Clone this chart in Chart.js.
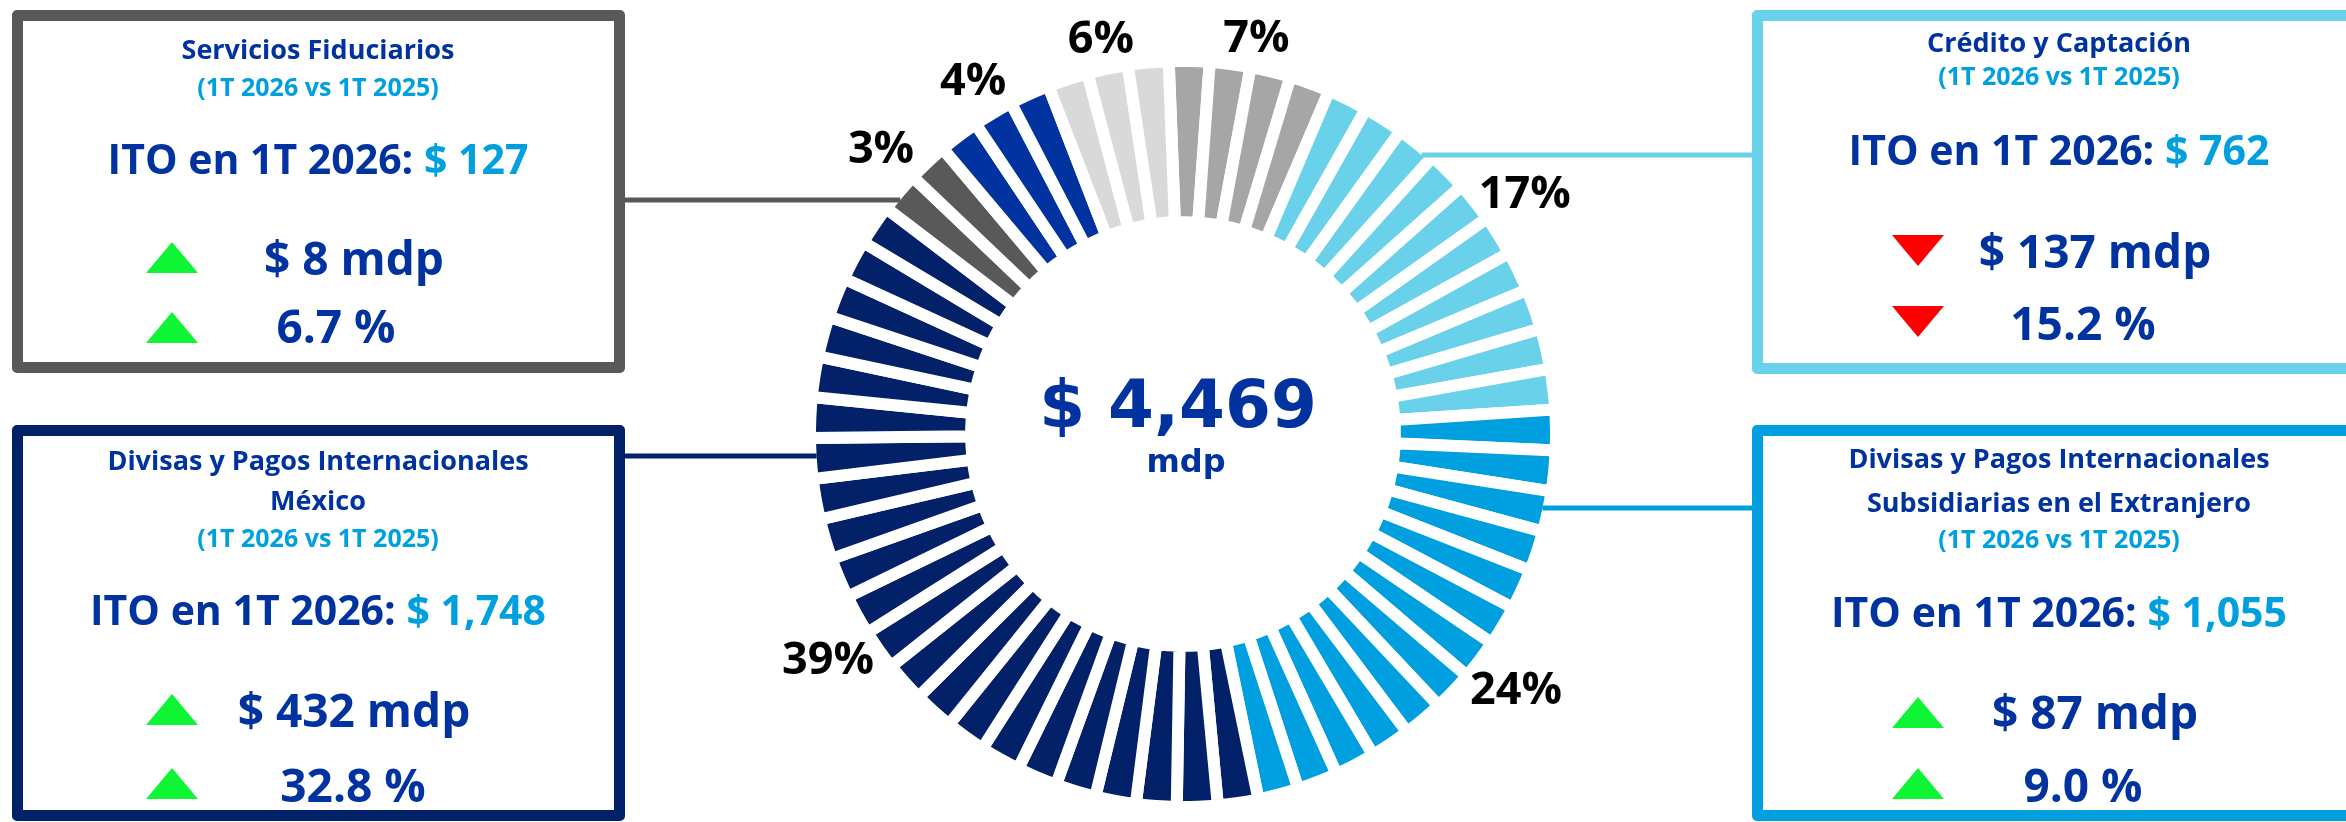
<!DOCTYPE html>
<html lang="es">
<head>
<meta charset="utf-8">
<script src="https://cdn.jsdelivr.net/npm/chart.js@4.4.1/dist/chart.umd.min.js"></script>
<style>
html,body{margin:0;padding:0;background:#fff;}
#page{position:relative;width:2346px;height:822px;overflow:hidden;font-family:"Open Sans",sans-serif;}
#chart{position:absolute;left:0;top:0;}
.box{position:absolute;box-sizing:border-box;border:11px solid;border-radius:5px;}
.t{position:absolute;width:800px;text-align:center;line-height:1;white-space:nowrap;font-weight:700;color:#0033a0;}
.tri{position:absolute;width:52px;height:31px;}
.up{background:#0df535;clip-path:polygon(50% 0,100% 100%,0 100%);}
.down{background:#ff0000;clip-path:polygon(0 0,100% 0,50% 100%);}
.centro{position:absolute;width:600px;text-align:center;line-height:1;font-family:"DejaVu Sans",sans-serif;font-weight:700;color:#0033a0;white-space:nowrap;}
</style>
</head>
<body>
<div id="page">
  <canvas id="chart" width="2346" height="822"></canvas>
</div>
<script>
// datos del anillo
const categorias = ['Otros negocios A', 'Crédito y Captación', 'Divisas y Pagos Internacionales Subsidiarias en el Extranjero', 'Divisas y Pagos Internacionales México', 'Servicios Fiduciarios', 'Otros negocios B', 'Otros negocios C'];
const porcentajes = [7, 17, 24, 39, 3, 4, 6];
const segmentos = [4, 10, 13, 22, 2, 3, 3];
const colores = ['#a6a6a6', '#69d2ea', '#009fdf', '#022169', '#595959', '#0033a0', '#d9d9d9'];

const totalIto = 4469;

// cajas: Servicios Fiduciarios, Divisas Mexico, Credito, Divisas Extranjero
const titulos = [['Servicios Fiduciarios'], ['Divisas y Pagos Internacionales', 'México'], ['Crédito y Captación'], ['Divisas y Pagos Internacionales', 'Subsidiarias en el Extranjero']];
const itoNegocio = [127, 1748, 762, 1055];
const variacionMdp = [8, 432, -137, 87];
const variacionPct = [6.7, 32.8, -15.2, 9.0];
const periodo = '(1T 2026 vs 1T 2025)';

const page = document.querySelector('#page');

function linea(html, cx, cy, size, extra) {
    const d = document.createElement('div');
    d.className = 't';
    d.style.left = (cx - 400) + 'px';
    d.style.top = (cy - 0.53 * size) + 'px';
    d.style.fontSize = size + 'px';
    if (extra) Object.assign(d.style, extra);
    d.innerHTML = html;
    page.appendChild(d);
}

function triangulo(x, y, sube) {
    const d = document.createElement('div');
    d.className = 'tri ' + (sube ? 'up' : 'down');
    d.style.left = x + 'px';
    d.style.top = y + 'px';
    page.appendChild(d);
}

const cajas = [
    {cat: 4, x: 12, y: 10, w: 613, h: 363, cx: 318, tit: [49], sub: 87, ito: 160, triX: 146, triY: [242, 312], mdp: [354, 258], pct: [336, 326]},
    {cat: 3, x: 12, y: 425, w: 613, h: 396, cx: 318, tit: [460, 500], sub: 538, ito: 611, triX: 146, triY: [694, 768], mdp: [354, 710], pct: [353, 785]},
    {cat: 1, x: 1752, y: 10, w: 700, h: 364, cx: 2059, tit: [42], sub: 76, ito: 151, triX: 1892, triY: [235, 306], mdp: [2095, 251], pct: [2083, 323]},
    {cat: 2, x: 1752, y: 425, w: 700, h: 396, cx: 2059, tit: [458, 502], sub: 539, ito: 613, triX: 1892, triY: [697, 768], mdp: [2095, 712], pct: [2083, 785]}
];

cajas.forEach((c, i) => {
    const b = document.createElement('div');
    b.className = 'box';
    Object.assign(b.style, {left: c.x + 'px', top: c.y + 'px', width: c.w + 'px', height: c.h + 'px', borderColor: colores[c.cat]});
    page.appendChild(b);

    titulos[i].forEach((t, k) => linea(t, c.cx, c.tit[k], 27));
    linea(periodo, c.cx, c.sub, 25, {color: '#00a0df'});
    linea('ITO en 1T 2026: <span style="color:#00a0df">$ ' + itoNegocio[i].toLocaleString('en-US') + '</span>', c.cx, c.ito, 41);

    triangulo(c.triX, c.triY[0], variacionMdp[i] >= 0);
    triangulo(c.triX, c.triY[1], variacionPct[i] >= 0);
    linea('$ ' + Math.abs(variacionMdp[i]).toLocaleString('en-US') + ' mdp', c.mdp[0], c.mdp[1], 46);
    linea(Math.abs(variacionPct[i]).toFixed(1) + ' %', c.pct[0], c.pct[1], 46);
});

// texto central
const tot = document.createElement('div');
tot.className = 'centro';
Object.assign(tot.style, {left: (1178 - 300) + 'px', top: (404 - 0.482 * 66) + 'px', fontSize: '66px'});
tot.textContent = '$ ' + totalIto.toLocaleString('en-US');
page.appendChild(tot);
const mdp = document.createElement('div');
mdp.className = 'centro';
Object.assign(mdp.style, {left: (1186 - 300) + 'px', top: (472 - 0.846 * 32) + 'px', fontSize: '32px'});
mdp.textContent = 'mdp';
page.appendChild(mdp);

// un segmento por cuadrito del anillo
const valores = [], fondos = [], segCat = [];
segmentos.forEach((n, i) => {
    for (let k = 0; k < n; k++) {
        valores.push(1);
        fondos.push(colores[i]);
        segCat.push(i);
    }
});

const borde = 12;

// porcentajes alrededor del anillo
const etiquetas = {
    id: 'etiquetas',
    afterDatasetsDraw(chart) {
        const arcs = chart.getDatasetMeta(0).data;
        const c = chart.ctx;
        c.save();
        c.font = '700 45px "Open Sans"';
        c.fillStyle = '#000';
        c.textAlign = 'center';
        c.textBaseline = 'alphabetic';
        let idx = 0;
        segmentos.forEach((n, i) => {
            const a0 = arcs[idx], a1 = arcs[idx + n - 1];
            idx += n;
            const ang = (a0.startAngle + a1.endAngle) / 2;
            const r = a0.outerRadius - borde / 2 + 34 + 22 * Math.abs(Math.cos(ang));
            const x = a0.x + r * Math.cos(ang);
            const y = a0.y + r * Math.sin(ang);
            c.fillText(porcentajes[i] + '%', x, y + 0.357 * 45);
        });
        c.restore();
    }
};

// lineas de las cajas al anillo
const lineasCaja = [{cat: 4, y: 200, desde: 625}, {cat: 3, y: 456, desde: 625}, {cat: 1, y: 155, desde: 1752}, {cat: 2, y: 508, desde: 1752}];
const conectores = {
    id: 'conectores',
    afterDatasetsDraw(chart) {
        const a = chart.getDatasetMeta(0).data[0];
        const R = a.outerRadius - borde / 2;
        const c = chart.ctx;
        c.save();
        c.lineWidth = 5;
        lineasCaja.forEach(l => {
            const dy = l.y - a.y;
            const dx = Math.sqrt(R * R - dy * dy);
            const hasta = l.desde < a.x ? a.x - dx : a.x + dx;
            c.strokeStyle = colores[l.cat];
            c.beginPath();
            c.moveTo(l.desde, l.y);
            c.lineTo(hasta, l.y);
            c.stroke();
        });
        c.restore();
    }
};

const chart = document.querySelector('#chart').getContext('2d');

new Chart(chart, {
    type: 'doughnut',
    data: {
        labels: segCat.map(i => categorias[i]),
        datasets: [{
            data: valores,
            backgroundColor: fondos,
            borderColor: '#ffffff',
            borderWidth: borde,
            borderJoinStyle: 'miter'
        }]
    },
    options: {
        responsive: false,
        animation: false,
        rotation: -2.2,
        cutout: '56.8%',
        layout: {padding: {left: 804, right: 784, top: 55, bottom: 9}},
        plugins: {legend: {display: false}, tooltip: {enabled: false}}
    },
    plugins: [etiquetas, conectores]
});
</script>
</body>
</html>
